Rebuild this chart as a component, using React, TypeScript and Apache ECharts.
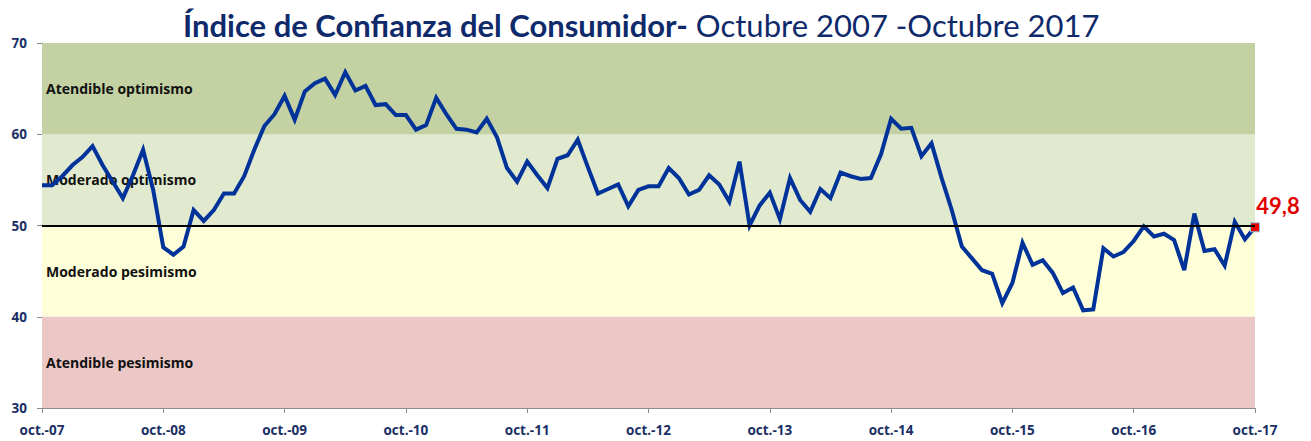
import React, { useEffect, useRef } from "react";
import * as echarts from "echarts";

const monthNames = ["oct.", "nov.", "dic.", "ene.", "feb.", "mar.", "abr.", "may.", "jun.", "jul.", "ago.", "sep."];
const yearLabels = ["07", "08", "09", "10", "11", "12", "13", "14", "15", "16", "17"];

const categories: string[] = [];
for (let y = 0; y < yearLabels.length; y++) {
  for (let m = 0; m < 12; m++) {
    if (y === yearLabels.length - 1 && m > 0) break;
    const yy = m < 3 ? yearLabels[y] : yearLabels[y + 1] ?? yearLabels[y];
    categories.push(monthNames[m] + "-" + yy);
  }
}

const icc: number[] = [
  54.4, 54.4, 55.4, 56.6, 57.5, 58.7, 56.6, 54.8, 53.0, 55.5, 58.3, 53.9,
  47.6, 46.8, 47.7, 51.7, 50.5, 51.7, 53.5, 53.5, 55.4, 58.3, 60.9, 62.2,
  64.2, 61.6, 64.7, 65.6, 66.1, 64.3, 66.8, 64.8, 65.3, 63.2, 63.3, 62.1,
  62.1, 60.5, 61.0, 64.0, 62.2, 60.6, 60.5, 60.2, 61.7, 59.7, 56.3, 54.8,
  57.0, 55.5, 54.1, 57.3, 57.7, 59.4, 56.4, 53.5, 54.0, 54.5, 52.1, 53.9,
  54.3, 54.3, 56.3, 55.2, 53.4, 53.9, 55.5, 54.5, 52.6, 57.0, 50.0, 52.2,
  53.6, 50.7, 55.2, 52.8, 51.5, 54.0, 53.0, 55.8, 55.4, 55.1, 55.2, 57.8,
  61.7, 60.6, 60.7, 57.6, 59.0, 55.2, 51.7, 47.7, 46.4, 45.1, 44.7, 41.5,
  43.7, 48.1, 45.7, 46.2, 44.8, 42.6, 43.2, 40.7, 40.8, 47.5, 46.6, 47.1,
  48.3, 49.9, 48.8, 49.1, 48.4, 45.1, 51.3, 47.2, 47.4, 45.6, 50.4, 48.5,
  49.8,
];

const bands = [
  { name: "Atendible optimismo", from: 60, to: 70, color: "#c3d1a3" },
  { name: "Moderado optimismo", from: 50, to: 60, color: "#e1e9cf" },
  { name: "Moderado pesimismo", from: 40, to: 50, color: "#fefed8" },
  { name: "Atendible pesimismo", from: 30, to: 40, color: "#ebc8c6" },
];

const neutralLevel = 50;
const titleBold = "Índice de Confianza del Consumidor-";
const titleRegular = " Octubre 2007 -Octubre 2017";

const NAVY = "#1a2f66";

export default function App() {
  const ref = useRef<HTMLDivElement>(null);
  useEffect(() => {
    if (!ref.current) return;
    const chart = echarts.init(ref.current, undefined, { renderer: "svg" });
    const last = icc.length - 1;
    const lineData = icc.map((v, i) =>
      i === last
        ? {
            value: v,
            symbol: "rect",
            symbolSize: 9,
            itemStyle: { color: "#ee0000", borderColor: "#8ccbe8", borderWidth: 1 },
            label: {
              show: true,
              position: "top",
              offset: [23, -1],
              formatter: (p: any) => String(p.value).replace(".", ","),
              color: "#e00000",
              fontWeight: "bold",
              fontSize: 22,
              fontFamily: "Lato",
            },
          }
        : v
    );
    chart.setOption({
      animation: false,
      title: {
        text: "{b|" + titleBold + "}{r|" + titleRegular + "}",
        left: 178,
        top: 4,
        textStyle: {
          rich: {
            b: { fontFamily: "Lato", fontWeight: "bold", fontSize: 31, color: "#0f2a6b" },
            r: { fontFamily: "Lato", fontWeight: "normal", fontSize: 31, color: "#0f2a6b" },
          },
        },
      },
      grid: { left: 42, right: 56, top: 43, bottom: 33, containLabel: false },
      xAxis: {
        type: "category",
        data: categories,
        boundaryGap: false,
        axisLine: { lineStyle: { color: "#8c8c8c", width: 1 } },
        axisTick: { interval: 11, length: 5, lineStyle: { color: "#8c8c8c" } },
        axisLabel: {
          interval: 11,
          color: NAVY,
          fontWeight: "bold",
          fontSize: 13.5,
          fontFamily: "Open Sans",
          margin: 15,
          formatter: (v: string, i: number) => "oct.-" + yearLabels[Math.floor(i / 12)],
        },
        splitLine: { show: false },
      },
      yAxis: {
        type: "value",
        min: 30,
        max: 70,
        interval: 10,
        axisLine: { show: true, lineStyle: { color: "#8c8c8c" } },
        axisTick: { show: true, length: 5, lineStyle: { color: "#8c8c8c" } },
        axisLabel: { color: NAVY, fontWeight: "bold", fontSize: 13.5, fontFamily: "Open Sans", margin: 15 },
        splitLine: { show: true, lineStyle: { color: "rgba(110,115,90,0.35)", width: 1 } },
      },
      series: [
        {
          type: "line",
          data: [],
          z: 1,
          silent: true,
          markArea: {
            silent: true,
            label: { show: false },
            data: bands.map((b) => [
              { yAxis: b.from, itemStyle: { color: b.color } },
              { yAxis: b.to },
            ]),
          },
          markLine: {
            silent: true,
            symbol: "none",
            label: { show: false },
            lineStyle: { color: "#000000", width: 2, type: "solid" },
            data: [{ yAxis: neutralLevel }],
          },
        },
        {
          type: "line",
          data: lineData,
          z: 3,
          showSymbol: true,
          symbol: "none",
          lineStyle: { color: "#003399", width: 4, join: "miter" },
          itemStyle: { color: "#003399" },
        },
        {
          type: "line",
          data: [],
          z: 5,
          silent: true,
          markArea: {
            silent: true,
            itemStyle: { color: "rgba(0,0,0,0)" },
            label: {
              show: true,
              position: "insideLeft",
              distance: 4,
              color: "#111111",
              fontWeight: "bold",
              fontSize: 14,
              fontFamily: "Open Sans",
            },
            data: bands.map((b) => [
              { yAxis: b.from, name: b.name },
              { yAxis: b.to },
            ]),
          },
        },
      ],
    });
    return () => chart.dispose();
  }, []);
  return (
    <div
      ref={ref}
      style={{ position: "fixed", left: 0, top: 0, width: 1311, height: 441, background: "#ffffff" }}
    />
  );
}
